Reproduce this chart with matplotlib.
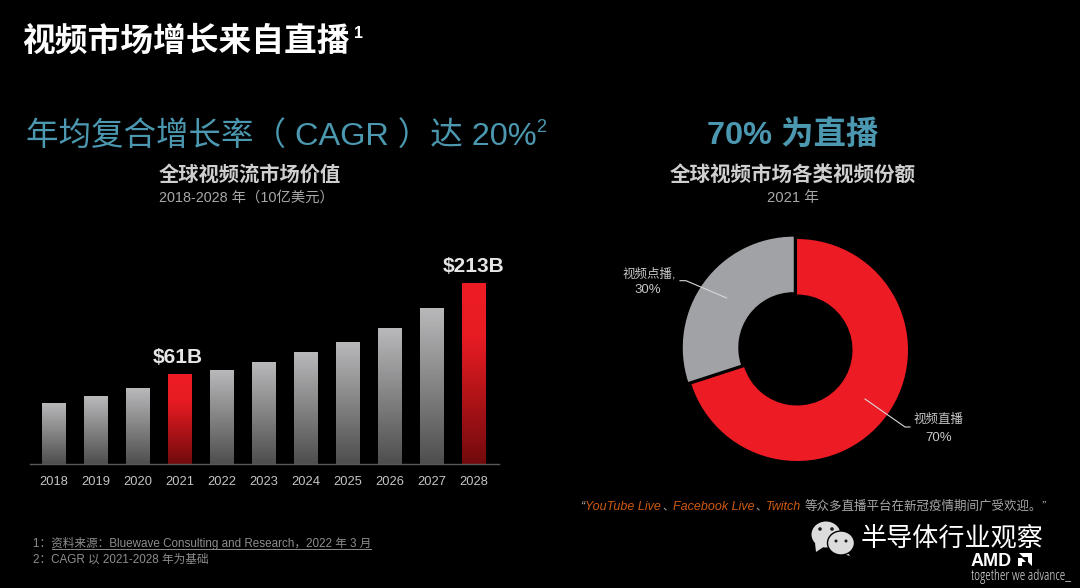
import matplotlib
matplotlib.use('Agg')
import matplotlib.pyplot as plt
import numpy as np
from matplotlib.colors import LinearSegmentedColormap
from matplotlib.patches import Ellipse, Polygon

plt.rcParams['font.family'] = ['Liberation Sans', 'Noto Sans CJK SC', 'DejaVu Sans']

# valores (el eje del original no es lineal, por eso log)
years = ['2018', '2019', '2020', '2021', '2022', '2023', '2024', '2025', '2026', '2027', '2028']
market = [41.5, 45.2, 50.4, 61, 64.8, 72.5, 83.1, 94.9, 114.9, 151.5, 213]
highlight = ['2021', '2028']
bar_labels = {'2021': '$61B', '2028': '$213B'}
base_value = 18.04

share_names = ['视频直播', '视频点播']
share_values = [70, 30]
share_colors = ['#ed1c24', '#a1a2a6']

W, H = 1080, 588
TEAL = '#4b98b0'
CJK = ['Noto Sans CJK SC', 'DejaVu Sans']

fig = plt.figure(figsize=(W / 100, H / 100), dpi=100, facecolor='black')

# capa en pixeles para textos y detalles sueltos
over = fig.add_axes([0, 0, 1, 1], zorder=5)
over.set_xlim(0, W)
over.set_ylim(H, 0)
over.axis('off')
over.patch.set_alpha(0)


def txt(x, y, s, size, color='#d0d0d0', ha='left', **kw):
    return over.text(x, y, s, fontsize=size, color=color, ha=ha, va='center', **kw)


def axes_px(x0, y0, x1, y1):
    return fig.add_axes([x0 / W, 1 - y1 / H, (x1 - x0) / W, (y1 - y0) / H], facecolor='none')


# titulos
txt(22, 41, '视频市场增长来自直播', 23.6, 'white', family=CJK, weight='bold')
txt(354, 33, '1', 11.5, 'white', weight='bold')
txt(26, 136, '年均复合增长率（ CAGR ）达 20%', 23.4, TEAL)
txt(536, 127, '2', 13, TEAL)
txt(793, 136, '70% 为直播', 23.4, TEAL, ha='center', weight='bold')
txt(250, 174, '全球视频流市场价值', 14.6, '#cfcfcf', ha='center', family=CJK, weight='bold')
txt(246, 198, '2018-2028 年（10亿美元）', 10.4, '#a8a8a8', ha='center')
txt(793, 175, '全球视频市场各类视频份额', 14.8, '#cfcfcf', ha='center', family=CJK, weight='bold')
txt(793, 198, '2021 年', 10.6, '#a8a8a8', ha='center')

# barras con degradado
ax = axes_px(30, 282.7, 499, 463.7)
ax.set_yscale('log')
ax.set_xlim(-0.571, 10.595)
ax.set_ylim(base_value, max(market))
gray_map = LinearSegmentedColormap.from_list('gris', ['#4e4e4e', '#b8b8ba'])
red_map = LinearSegmentedColormap.from_list(
    'rojo', [(0, '#720a0d'), (0.4, '#b51418'), (0.7, '#e61b22'), (1, '#ed1c24')])
bar_w = 0.59
for i, (year, val) in enumerate(zip(years, market)):
    edges = np.geomspace(base_value, val, 121)
    shade = np.linspace(0, 1, 120).reshape(-1, 1)
    cmap = red_map if year in highlight else gray_map
    ax.pcolormesh([i - bar_w / 2, i + bar_w / 2], edges, shade, cmap=cmap, vmin=0, vmax=1, clip_on=False)
    if year in bar_labels:
        ax.annotate(bar_labels[year], (i, val), xytext=(-2 if year == '2021' else 0, 7), textcoords='offset pixels',
                    ha='center', va='bottom', fontsize=15, color='#e6e6e6', weight='bold', annotation_clip=False)

for s in ['top', 'right', 'left']:
    ax.spines[s].set_visible(False)
ax.spines['bottom'].set_color('#5a5a5a')
ax.spines['bottom'].set_linewidth(1)
ax.set_yticks([])
ax.minorticks_off()
ax.set_xticks(range(len(years)))
ax.set_xticklabels(years, fontsize=9.3, color='#c4c4c4')
ax.tick_params(axis='x', length=0, pad=9)

# dona, el sector gris va un poco separado
ax2 = axes_px(677, 230, 917, 470)
ax2.pie(share_values, colors=share_colors, startangle=90, counterclock=False, radius=1,
        explode=[0, 0.036], wedgeprops={'width': 0.5, 'edgecolor': 'none'})
ax2.set_xlim(-120 / 111, 120 / 111)
ax2.set_ylim(-120 / 111, 120 / 111)

txt(649, 274, share_names[1] + ',', 9, '#c8c8c8', ha='center')
txt(648, 290, f'{share_values[1]}%', 9.5, '#c8c8c8', ha='center')
txt(939, 420, share_names[0], 9, '#c8c8c8', ha='center')
txt(939, 438, f'{share_values[0]}%', 9.5, '#c8c8c8', ha='center')
over.plot([680, 686, 726.7], [280.7, 280.7, 298], color='#d8d8d8', lw=0.8)
over.plot([865, 905, 910], [399, 427, 427], color='#d8d8d8', lw=0.8)

# frase inferior
ORANGE = '#cf5a12'
QUOTE_GRAY = '#a8a8a8'
txt(580, 507, '“', 9, QUOTE_GRAY, style='italic')
txt(585, 507, 'YouTube Live', 9, ORANGE, style='italic')
txt(662, 507, '、', 8, QUOTE_GRAY)
txt(673, 507, 'Facebook Live', 9, ORANGE, style='italic')
txt(755, 507, '、', 8, QUOTE_GRAY)
txt(766, 507, 'Twitch', 9, ORANGE, style='italic')
txt(805, 507, '等众多直播平台在新冠疫情期间广受欢迎。”', 9, QUOTE_GRAY, style='italic')

# notas
NOTE = '#8e8e8e'
txt(33, 543, '1：资料来源：Bluewave Consulting and Research，2022 年 3 月', 8.4, NOTE)
over.plot([52, 371], [548.5, 548.5], color=NOTE, lw=0.7)
txt(33, 560, '2：CAGR 以 2021-2028 年为基础', 8.4, NOTE)

# marca de agua y logo
LOGO = '#dcdcdc'
over.add_patch(Polygon([[815, 543], [816, 552], [825, 546]], color=LOGO, lw=0))
over.add_patch(Ellipse((826, 534.5), 29, 26, color=LOGO, lw=0))
over.add_patch(Polygon([[846, 550], [850, 556], [840, 553]], color=LOGO, lw=0))
over.add_patch(Ellipse((841, 543), 27, 24, facecolor=LOGO, edgecolor='black', lw=1))
for ex, ey, er in [(820, 529, 1.8), (832, 529, 1.8), (836, 541, 1.5), (846, 541, 1.5)]:
    over.add_patch(Ellipse((ex, ey), er * 2, er * 2, color='#1c1c1c', lw=0))
txt(861, 539, '半导体行业观察', 18.8, 'white', family=CJK)
txt(971, 561, 'AMD', 13, 'white', weight='bold')
over.add_patch(Polygon([[1019, 553], [1032, 553], [1032, 566], [1028, 562], [1028, 557], [1023, 557]], color='white', lw=0))
over.add_patch(Polygon([[1018, 558], [1022, 558], [1026, 562], [1022, 562], [1022, 566], [1018, 566]], color='white', lw=0))
txt(971, 577, 'together we advance_', 10.3, '#d8d8d8', family=['Open Sans'], stretch='condensed')

fig.savefig('out.png', dpi=100, facecolor='black')
plt.close(fig)
